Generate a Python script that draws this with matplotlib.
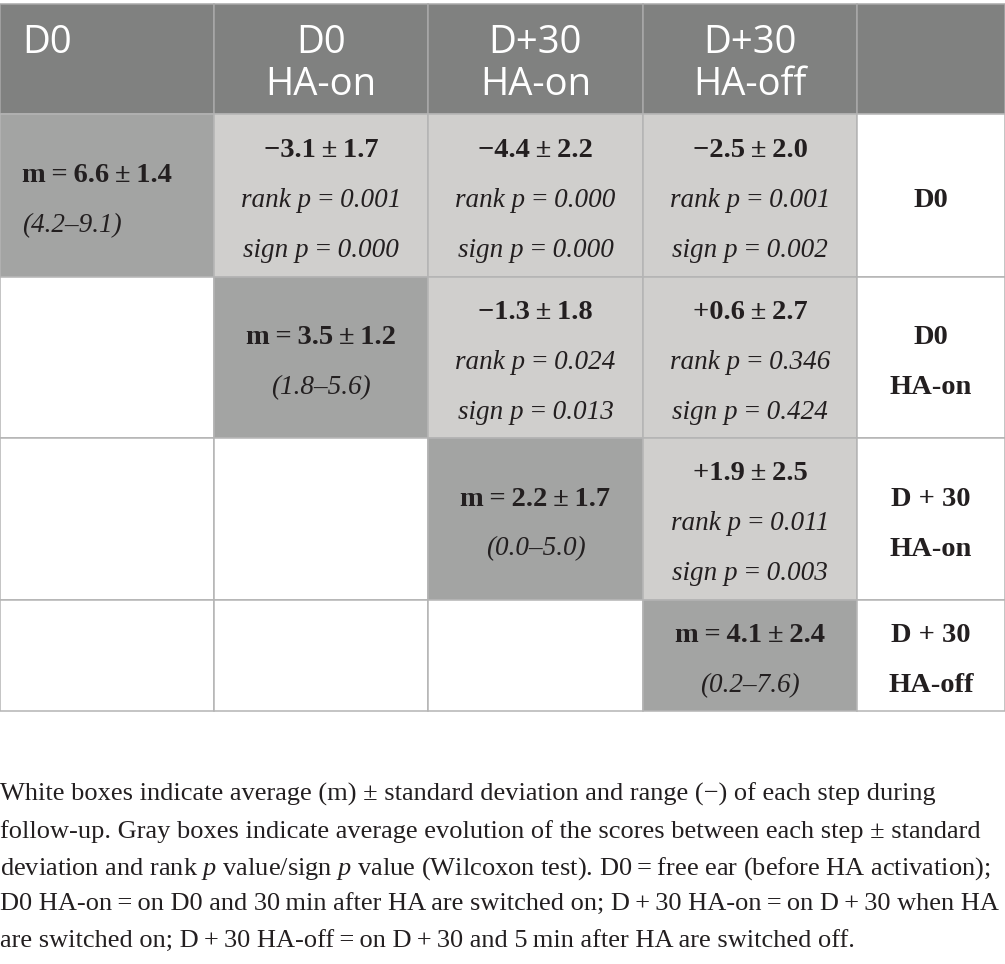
#!/usr/bin/env python3
"""
Pairwise comparison table of scores across follow-up steps
"""

import matplotlib
matplotlib.use('Agg')
import matplotlib.pyplot as plt
from matplotlib.patches import Rectangle

plt.rcParams['mathtext.fontset'] = 'custom'
plt.rcParams['mathtext.rm'] = 'Liberation Serif'
plt.rcParams['mathtext.it'] = 'Liberation Serif:italic'

# --- data ---
header_labels = ["D0", "D0\nHA-on", "D+30\nHA-on", "D+30\nHA-off", ""]
row_labels = ["D0", "D0\nHA-on", "D + 30\nHA-on", "D + 30\nHA-off"]

step_means = [6.6, 3.5, 2.2, 4.1]
step_sds = [1.4, 1.2, 1.7, 2.4]
range_low = [4.2, 1.8, 0.0, 0.2]
range_high = [9.1, 5.6, 5.0, 7.6]

pair_rows = [0, 0, 0, 1, 1, 2]
pair_cols = [1, 2, 3, 2, 3, 3]
diff_means = [-3.1, -4.4, -2.5, -1.3, 0.6, 1.9]
diff_sds = [1.7, 2.2, 2.0, 1.8, 2.7, 2.5]
rank_p = [0.001, 0.000, 0.001, 0.024, 0.346, 0.011]
sign_p = [0.000, 0.000, 0.002, 0.013, 0.424, 0.003]

caption_lines = [
    "White boxes indicate average (m) \u00b1 standard deviation and range (\u2212) of each step during",
    "follow-up. Gray boxes indicate average evolution of the scores between each step \u00b1 standard",
    "deviation and rank $p$ value/sign $p$ value (Wilcoxon test). D0\u2009=\u2009free ear (before HA activation);",
    "D0 HA-on\u2009=\u2009on D0 and 30\u2009min after HA are switched on; D\u2009+\u200930 HA-on\u2009=\u2009on D\u2009+\u200930 when HA",
    "are switched on; D\u2009+\u200930 HA-off\u2009=\u2009on D\u2009+\u200930 and 5\u2009min after HA are switched off.",
]

# --- layout (pixels) ---
col_edges = [0, 214, 428, 643, 857, 1005]
row_edges = [4, 114, 277, 438, 600, 711]

header_color = '#808180'
diag_color = '#a3a4a3'
pair_color = '#d0cfcd'
line_color = '#b4b4b4'
text_color = '#231f20'
serif = 'Liberation Serif'
bold_size = 20.5
ital_size = 19.5
TS = '\u2009'  # thin space


def fmt_signed(v):
    if v < 0:
        return '\u2212%.1f' % abs(v)
    return '+%.1f' % v


fig = plt.figure(figsize=(10.05, 9.64), dpi=100)
ax = fig.add_axes([0, 0, 1, 1])
ax.set_xlim(0, 1005)
ax.set_ylim(964, 0)
ax.axis('off')

# header row
for j, label in enumerate(header_labels):
    x0, x1 = col_edges[j], col_edges[j + 1]
    y0, y1 = row_edges[0], row_edges[1]
    ax.add_patch(Rectangle((x0, y0), x1 - x0, y1 - y0, facecolor=header_color,
                           edgecolor='#a9a9a9', lw=1.1))
    if not label:
        continue
    lines = label.split('\n')
    for k, line in enumerate(lines):
        if j == 0:
            ax.text(22, 43 + 42 * k, line, ha='left', va='center', color='white',
                    fontsize=27.5, family='Open Sans')
        else:
            ax.text((x0 + x1) / 2, 43 + 42 * k, line, ha='center', va='center',
                    color='white', fontsize=27.5, family='Open Sans')

# body cells
for i in range(4):
    y0, y1 = row_edges[i + 1], row_edges[i + 2]
    yc = (y0 + y1) / 2 + 5
    for j in range(5):
        x0, x1 = col_edges[j], col_edges[j + 1]
        if j == i:
            fc = diag_color
        elif j == 4 or j < i:
            fc = 'white'
        else:
            fc = pair_color
        ax.add_patch(Rectangle((x0, y0), x1 - x0, y1 - y0, facecolor=fc,
                               edgecolor=line_color, lw=1.1))

    # diagonal: mean +- sd and range
    x0, x1 = col_edges[i], col_edges[i + 1]
    if i == 0:
        tx, ha = 22, 'left'
    else:
        tx, ha = (x0 + x1) / 2, 'center'
    ax.text(tx, yc - 25, 'm%s=%s%.1f%s\u00b1%s%.1f' % (TS, TS, step_means[i], TS, TS, step_sds[i]),
            ha=ha, va='center', fontsize=bold_size, family=serif, weight='bold', color=text_color)
    ax.text(tx, yc + 25, '(%.1f\u2013%.1f)' % (range_low[i], range_high[i]),
            ha=ha, va='center', fontsize=ital_size, family=serif, style='italic', color=text_color)

    # row label
    lab = row_labels[i].split('\n')
    xc = (col_edges[4] + col_edges[5]) / 2
    offs = [0] if len(lab) == 1 else [-25, 25]
    for line, off in zip(lab, offs):
        ax.text(xc, yc + off, line, ha='center', va='center', fontsize=bold_size,
                family=serif, weight='bold', color=text_color)

# pairwise differences
for r, c, dm, ds, rp, sp in zip(pair_rows, pair_cols, diff_means, diff_sds, rank_p, sign_p):
    xc = (col_edges[c] + col_edges[c + 1]) / 2
    yc = (row_edges[r + 1] + row_edges[r + 2]) / 2 + 5
    ax.text(xc, yc - 50, '%s%s\u00b1%s%.1f' % (fmt_signed(dm), TS, TS, ds), ha='center', va='center',
            fontsize=bold_size, family=serif, weight='bold', color=text_color)
    ax.text(xc, yc, 'rank p%s=%s%.3f' % (TS, TS, rp), ha='center', va='center',
            fontsize=ital_size, family=serif, style='italic', color=text_color)
    ax.text(xc, yc + 50, 'sign p%s=%s%.3f' % (TS, TS, sp), ha='center', va='center',
            fontsize=ital_size, family=serif, style='italic', color=text_color)

# caption: shrink any line that would run past the right edge
renderer = fig.canvas.get_renderer()
cap_baselines = [801, 838, 875, 911, 948]
for line, yb in zip(caption_lines, cap_baselines):
    t = ax.text(0, yb, line, ha='left', va='baseline', fontsize=19.0, family=serif,
                color=text_color)
    w = t.get_window_extent(renderer).width
    if w > 1000:
        t.set_fontsize(19.0 * 1000 / w)

fig.savefig('out.png', dpi=100)
